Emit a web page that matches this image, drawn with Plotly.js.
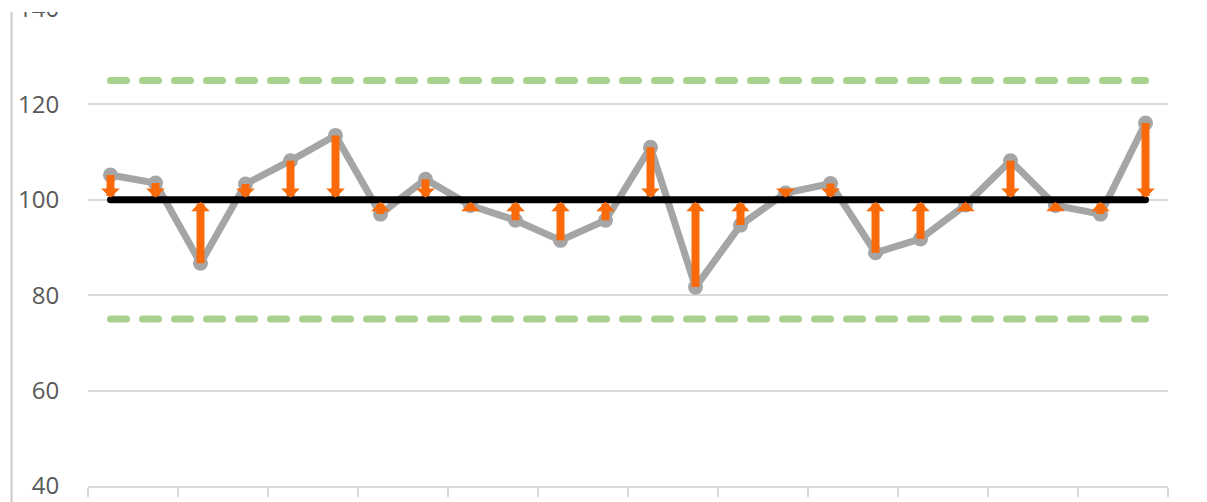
<!DOCTYPE html>
<html>
<head>
<meta charset="utf-8">
<script src="https://cdn.plot.ly/plotly-3.0.1.min.js"></script>
<style>
  html, body { margin: 0; padding: 0; background: #ffffff; }
  #chart { width: 1207px; height: 502px; }
  .scatterlayer .js-line { stroke-linecap: round; }
</style>
</head>
<body>
<div id="chart"></div>
<script>
// ---- data ----
const periods = [1, 2, 3, 4, 5, 6, 7, 8, 9, 10, 11, 12, 13, 14, 15, 16, 17, 18, 19, 20, 21, 22, 23, 24];
const values = [105.2, 103.5, 86.7, 103.3, 108.2, 113.5, 97, 104.3, 98.8, 95.7, 91.5, 95.7,
                111, 81.7, 94.7, 101.4, 103.4, 88.9, 91.8, 98.9, 108.2, 98.8, 97, 116.1];
const target = 100;
const upperLimit = 125;
const lowerLimit = 75;
const yTickValues = [40, 60, 80, 100, 120, 140];

// ---- styles ----
const gray = '#a5a5a5';
const green = '#a9d18e';
const orange = '#fa6a0a';
const gridColor = '#d9d9d9';

const targetLine = periods.map(() => target);
const upperLine = periods.map(() => upperLimit);
const lowerLine = periods.map(() => lowerLimit);

// category boundaries, a tick every second category
const boundaryTicks = [];
for (let i = 0; i <= periods.length; i += 2) boundaryTicks.push(periods[0] - 0.5 + i);

const traces = [
  { x: periods, y: upperLine, type: 'scatter', mode: 'lines',
    line: { color: green, width: 7, dash: '16px,16px' }, hoverinfo: 'skip' },
  { x: periods, y: lowerLine, type: 'scatter', mode: 'lines',
    line: { color: green, width: 7, dash: '16px,16px' }, hoverinfo: 'skip' },
  { x: periods, y: values, type: 'scatter', mode: 'lines+markers',
    line: { color: gray, width: 7 },
    marker: { color: gray, size: 15 } },
  { x: periods, y: targetLine, type: 'scatter', mode: 'lines',
    line: { color: '#000000', width: 7 }, hoverinfo: 'skip' }
];

const annotations = periods.map((p, i) => ({
  x: p, y: target, xref: 'x', yref: 'y',
  ax: p, ay: values[i], axref: 'x', ayref: 'y',
  text: '', showarrow: true,
  arrowhead: 1, arrowsize: 0.39, arrowwidth: 8, arrowcolor: orange,
  standoff: 2, borderpad: 0, borderwidth: 0
}));

const layout = {
  width: 1207, height: 502,
  margin: { l: 88, r: 39, t: 9, b: 16, pad: 0 },
  paper_bgcolor: '#ffffff', plot_bgcolor: '#ffffff',
  showlegend: false,
  font: { family: '"Open Sans", "Noto Sans", sans-serif', color: '#595959' },
  xaxis: {
    range: [periods[0] - 0.5, periods[periods.length - 1] + 0.5],
    showgrid: false, zeroline: false,
    showline: true, linecolor: gridColor, linewidth: 2,
    tickmode: 'array', tickvals: boundaryTicks, showticklabels: false,
    ticks: 'outside', ticklen: 9, tickwidth: 2, tickcolor: gridColor
  },
  yaxis: {
    range: [40, 140],
    tickmode: 'array', tickvals: yTickValues,
    showgrid: true, gridcolor: gridColor, gridwidth: 2,
    zeroline: false, showline: false,
    ticks: 'outside', ticklen: 23, tickcolor: 'rgba(0,0,0,0)',
    ticklabeloverflow: 'allow',
    tickfont: { size: 24, color: '#595959' }
  },
  annotations: annotations,
  shapes: [
    { type: 'rect', xref: 'paper', yref: 'paper', x0: -0.2, x1: 1.2, y0: 0.9935, y1: 1.2,
      fillcolor: '#ffffff', line: { width: 0 }, layer: 'above' },
    { type: 'line', xref: 'paper', yref: 'paper', x0: -0.0708, x1: -0.0708, y0: -0.2, y1: 0.9935,
      line: { color: '#cccccc', width: 2 }, layer: 'above' }
  ]
};

Plotly.newPlot('chart', traces, layout, { displayModeBar: false, staticPlot: true });
</script>
</body>
</html>
